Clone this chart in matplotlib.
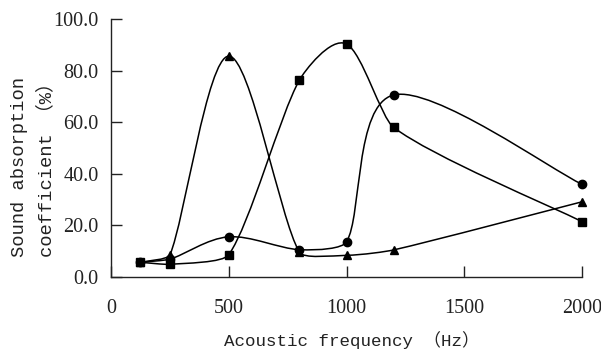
import numpy as np
import matplotlib
matplotlib.use("Agg")
import matplotlib.pyplot as plt
from matplotlib.path import Path
from matplotlib.patches import PathPatch

freq = [125, 250, 500, 800, 1000, 1200, 2000]
triangle = [5.6, 8.4, 85.7, 9.5, 8.3, 10.4, 29.1]
square = [5.6, 4.8, 8.5, 76.4, 90.4, 58.0, 21.4]
circle = [5.6, 6.8, 15.5, 10.5, 13.5, 70.6, 35.9]

xticks = [0, 500, 1000, 1500, 2000]
yticks = [0, 20, 40, 60, 80, 100]

label_font = ["Liberation Mono", "Noto Sans CJK SC"]
tick_font = "Liberation Serif"

# axes box in pixels, used to smooth in screen space like Excel does
AX_W, AX_H = 471, 257.4
SCALE = np.array([AX_W / 2000, AX_H / 100])


def arm(prev, nxt, a, b):
    # control arm for segment a->b, tangent from prev->nxt, shortened
    # when it would be long compared to the segment
    t = (nxt - prev) * SCALE
    seg = np.linalg.norm((b - a) * SCALE)
    n = np.linalg.norm(t)
    if n / 6 >= seg / 2 and n > 0:
        t = t / n * seg
    return t / 6 / SCALE


def smooth_path(x, y):
    pts = np.column_stack([x, y]).astype(float)
    ext = np.vstack([pts[0], pts, pts[-1]])
    verts = [pts[0]]
    codes = [Path.MOVETO]
    for i in range(len(pts) - 1):
        p0, p1, p2, p3 = ext[i], ext[i + 1], ext[i + 2], ext[i + 3]
        verts += [p1 + arm(p0, p2, p1, p2), p2 - arm(p1, p3, p1, p2), p2]
        codes += [Path.CURVE4] * 3
    return Path(verts, codes)


fig = plt.figure(figsize=(6.01, 3.54), dpi=100)
ax = fig.add_axes([111 / 601, 1 - 276.7 / 354, AX_W / 601, AX_H / 354])

for ys, marker in [(triangle, "^"), (square, "s"), (circle, "o")]:
    ax.add_patch(PathPatch(smooth_path(freq, ys), facecolor="none",
                           edgecolor="black", lw=1.1, zorder=2))
    ax.plot(freq, ys, linestyle="none", marker=marker, color="black",
            markersize=6, zorder=3, clip_on=False)

ax.set_xlim(0, 2000)
ax.set_ylim(0, 100)
ax.set_xticks(xticks)
ax.set_yticks(yticks)
ax.set_xticklabels([str(t) for t in xticks], family=tick_font, fontsize=14.5)
ax.set_yticklabels([f"{t:.1f}" for t in yticks], family=tick_font, fontsize=14.5)
ax.tick_params(axis="x", direction="in", length=8, width=1, pad=16, colors="#222222")
ax.tick_params(axis="y", direction="in", length=8, width=1, pad=9, colors="#222222")
for side in ["top", "right"]:
    ax.spines[side].set_visible(False)
for side in ["left", "bottom"]:
    ax.spines[side].set_color("#222222")
    ax.spines[side].set_linewidth(1)

fig.text(224 / 601, 1 - 346 / 354, "Acoustic frequency （Hz）", family=label_font,
         fontsize=12.6, ha="left", va="baseline", color="#222222")
fig.text(20 / 601, 1 - 257 / 354, "Sound absorption", family=label_font,
         fontsize=13.5, rotation=90, ha="center", va="bottom", color="#222222")
fig.text(46 / 601, 1 - 257 / 354, "coefficient （%）", family=label_font,
         fontsize=13.5, rotation=90, ha="center", va="bottom", color="#222222")

fig.savefig("out.png", dpi=100)
